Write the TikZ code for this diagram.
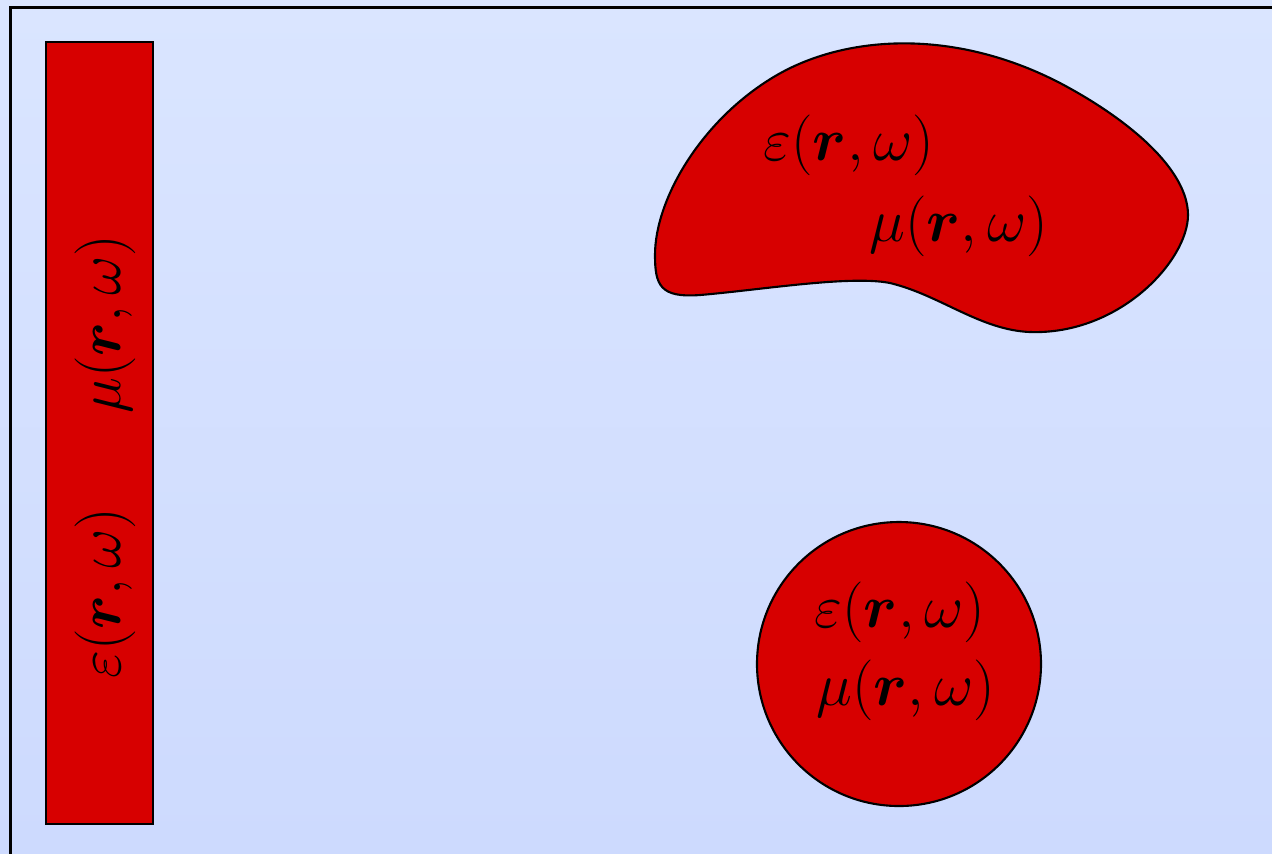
\documentclass[tikz,border=0pt]{standalone}
\usepackage{amsmath}
\usepackage{amssymb}
\usepackage{bm}
\usepackage{tikz}
\usetikzlibrary{positioning}

\definecolor{medred}{RGB}{215,0,0}
\definecolor{bgtop}{RGB}{218,229,255}
\definecolor{bgbot}{RGB}{205,218,254}

\tikzset{
    medium/.style={fill=medred, draw=black, line width=0.6pt},
    lbl/.style={inner sep=0pt, font=\LARGE}
}

\begin{document}
\begin{tikzpicture}[x=0.01cm, y=-0.01cm]
    \useasboundingbox (0,0) rectangle (1272,853);
    \shade[top color=bgtop, bottom color=bgbot] (0,0) rectangle (1272,853);
    \draw[line width=0.7pt] (10.5,900) -- (10.5,7.5) -- (1300,7.5);

    % slab
    \draw[medium] (46,42) rectangle (153,824);
    \node[lbl, rotate=90] (slabmu) at (105,324) {$\mu(\bm{r},\omega)$};
    \node[lbl, rotate=90] (slabeps) at (105,593) {$\varepsilon(\bm{r},\omega)$};

    % blob
    \draw[medium] (655,255) .. controls (655,200) and (700,122) .. (772,78)
        .. controls (840,36) and (950,26) .. (1060,83)
        .. controls (1130,120) and (1188,170) .. (1188,215)
        .. controls (1188,260) and (1120,335) .. (1030,332)
        .. controls (980,330) and (940,295) .. (890,283)
        .. controls (850,275) and (760,290) .. (700,295)
        .. controls (660,298) and (655,285) .. cycle;
    \node[lbl] (blobeps) at (849,145) {$\varepsilon(\bm{r},\omega)$};
    \node[lbl] (blobmu) at (959,226) {$\mu(\bm{r},\omega)$};

    % sphere
    \draw[medium] (899,664) circle (142);
    \node[lbl] (sphereps) at (900,612) {$\varepsilon(\bm{r},\omega)$};
    \node[lbl] (sphmu) at (906,690) {$\mu(\bm{r},\omega)$};
\end{tikzpicture}
\end{document}
